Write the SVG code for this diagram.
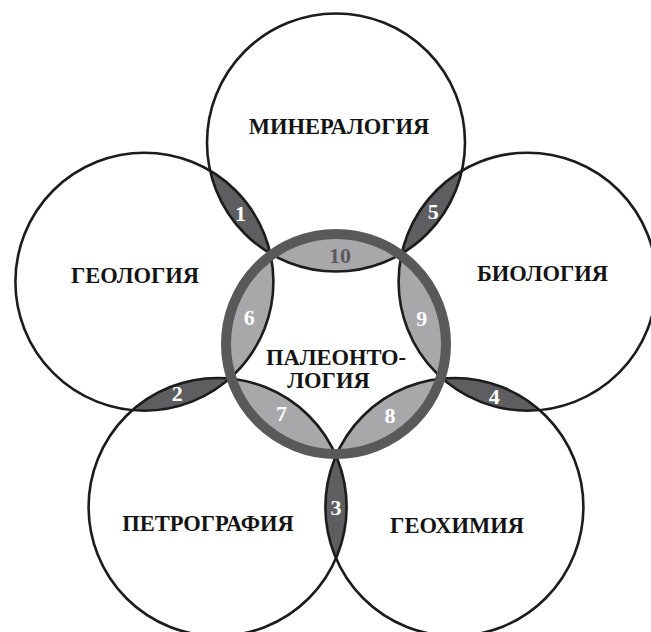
<svg xmlns="http://www.w3.org/2000/svg" width="651" height="632" viewBox="0 0 651 632">
<style>
.outline{fill:none;stroke:#1c1c1c;stroke-width:2.6}
.dark{fill:#5e5e60}
.light{fill:#a8a8aa}
.ring{fill:none;stroke:#59595b;stroke-width:10}
.label{font-family:"Liberation Serif","Times New Roman",serif;font-weight:bold;font-size:22.5px;fill:#141414;text-anchor:middle}
.num{font-family:"Liberation Serif","Times New Roman",serif;font-weight:bold;font-size:22px;fill:#ffffff;text-anchor:middle}
.num10{fill:#5a5a5c}
</style>
<defs>
<circle id="cirT" cx="336" cy="142.5" r="129"/>
<circle id="cirL" cx="144.4" cy="281.7" r="129"/>
<circle id="cirR" cx="527.6" cy="281.7" r="129"/>
<circle id="cirBL" cx="217.6" cy="507" r="129"/>
<circle id="cirBR" cx="454.4" cy="507" r="129"/>
<clipPath id="clipT"><use href="#cirT"/></clipPath>
<clipPath id="clipL"><use href="#cirL"/></clipPath>
<clipPath id="clipR"><use href="#cirR"/></clipPath>
<clipPath id="clipBL"><use href="#cirBL"/></clipPath>
<clipPath id="clipBR"><use href="#cirBR"/></clipPath>
<clipPath id="clipC"><circle cx="336" cy="344" r="110"/></clipPath>
</defs>
<rect width="651" height="632" fill="#ffffff"/>
<g id="overlaps">
<use href="#cirT" class="dark" clip-path="url(#clipL)"/>
<use href="#cirL" class="dark" clip-path="url(#clipBL)"/>
<use href="#cirBL" class="dark" clip-path="url(#clipBR)"/>
<use href="#cirBR" class="dark" clip-path="url(#clipR)"/>
<use href="#cirR" class="dark" clip-path="url(#clipT)"/>
<use href="#cirL" class="light" clip-path="url(#clipC)"/>
<use href="#cirBL" class="light" clip-path="url(#clipC)"/>
<use href="#cirBR" class="light" clip-path="url(#clipC)"/>
<use href="#cirR" class="light" clip-path="url(#clipC)"/>
<use href="#cirT" class="light" clip-path="url(#clipC)"/>
</g>
<g id="mineralogy"><use href="#cirT" class="outline"/><text class="label" x="339" y="133.5">МИНЕРАЛОГИЯ</text></g>
<g id="geology"><use href="#cirL" class="outline"/><text class="label" x="135" y="283">ГЕОЛОГИЯ</text></g>
<g id="biology"><use href="#cirR" class="outline"/><text class="label" x="542.5" y="281">БИОЛОГИЯ</text></g>
<g id="petrography"><use href="#cirBL" class="outline"/><text class="label" x="208" y="531">ПЕТРОГРАФИЯ</text></g>
<g id="geochemistry"><use href="#cirBR" class="outline"/><text class="label" x="457" y="532.5">ГЕОХИМИЯ</text></g>
<g id="paleontology"><circle class="ring" cx="336" cy="344" r="110"/><text class="label" x="336" y="364.5">ПАЛЕОНТО-</text><text class="label" x="328.5" y="387.5">ЛОГИЯ</text></g>
<g id="connectors"></g>
<g id="numbers">
<text class="num" x="240.5" y="220.5">1</text>
<text class="num" x="177.3" y="401">2</text>
<text class="num" x="336" y="515">3</text>
<text class="num" x="494.3" y="404">4</text>
<text class="num" x="433.3" y="219">5</text>
<text class="num" x="249.3" y="325">6</text>
<text class="num" x="281.5" y="421">7</text>
<text class="num" x="390" y="422.5">8</text>
<text class="num" x="421.7" y="326">9</text>
<text class="num num10" x="340" y="263">10</text>
</g>
</svg>
